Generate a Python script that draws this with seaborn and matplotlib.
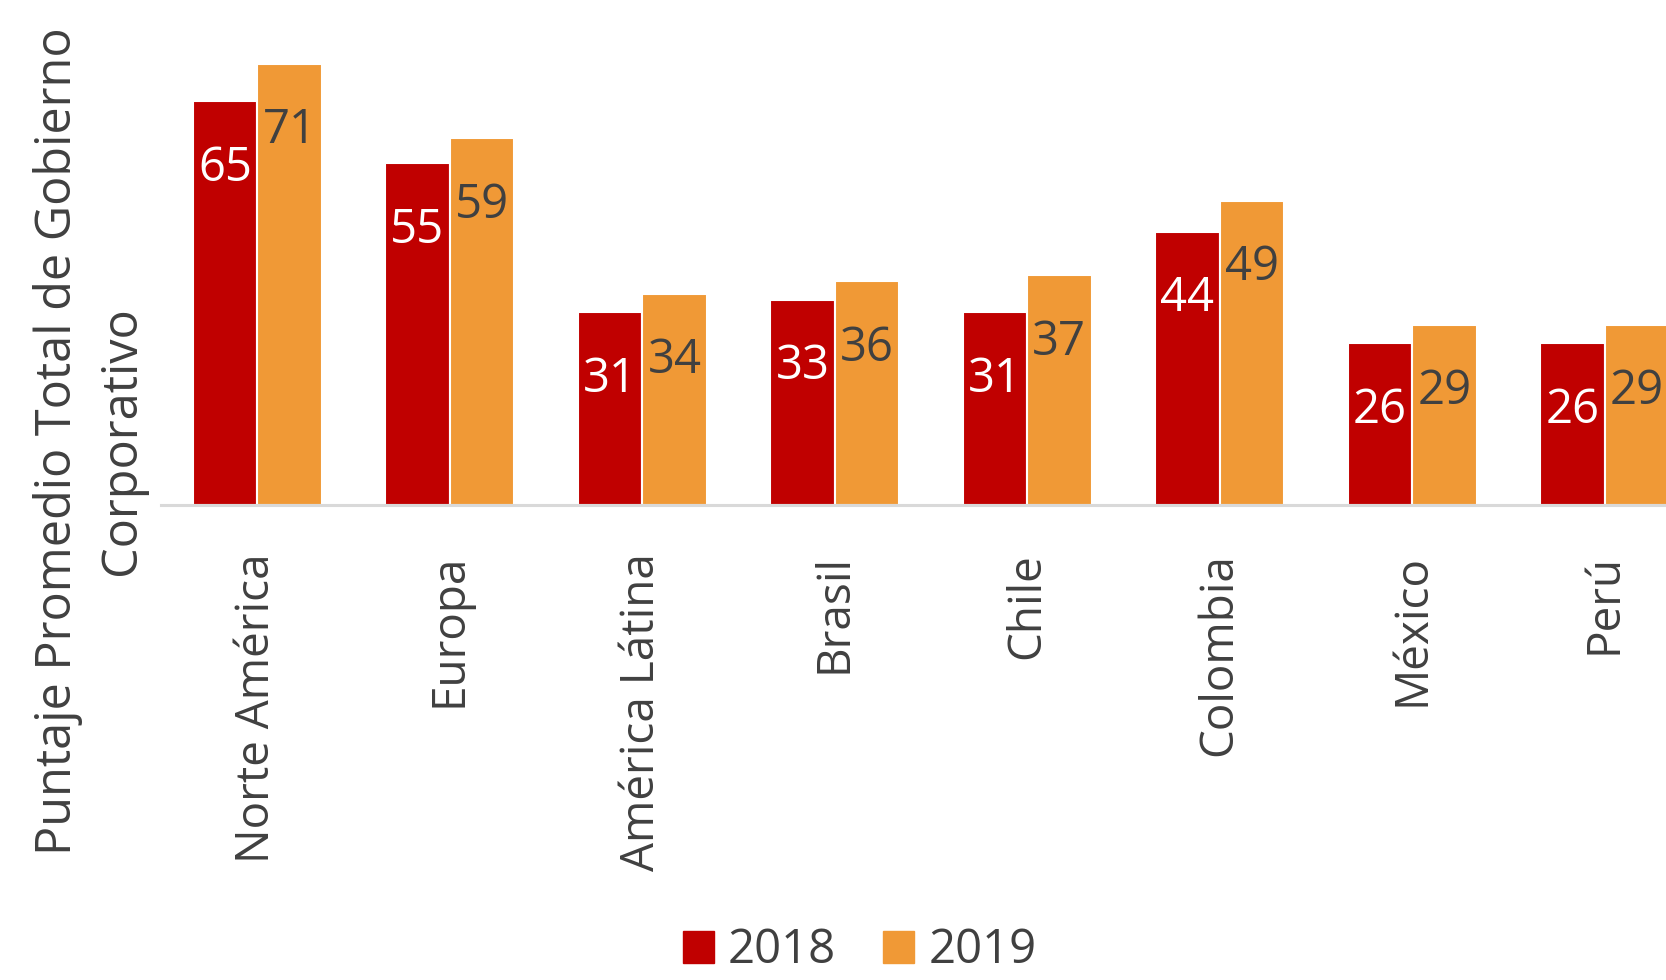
import matplotlib
matplotlib.use("Agg")
import matplotlib.pyplot as plt
import seaborn as sns
import pandas as pd

categories = ["Norte América", "Europa", "América Látina", "Brasil", "Chile",
              "Colombia", "México", "Perú"]
years = ["2018", "2019"]
values_2018 = [65, 55, 31, 33, 31, 44, 26, 26]
values_2019 = [71, 59, 34, 36, 37, 49, 29, 29]
ylabel = "Puntaje Promedio Total de Gobierno\nCorporativo"

colors = {"2018": "#C00000", "2019": "#F09936"}
text_gray = "#404040"

df = pd.DataFrame({
    "cat": categories * 2,
    "year": ["2018"] * len(categories) + ["2019"] * len(categories),
    "val": values_2018 + values_2019,
})

sns.set_theme(style="white")
plt.rcParams["font.family"] = ["Open Sans", "DejaVu Sans"]

fig = plt.figure(figsize=(16.66, 9.8), dpi=100)
W, H = 1666, 980
left_px, right_px, top_px, base_px = 161, 1666, 39, 505
ax = fig.add_axes([left_px / W, 1 - base_px / H, (right_px - left_px) / W, (base_px - top_px) / H])

sns.barplot(data=df, x="cat", y="val", hue="year", order=categories, hue_order=years,
            palette=colors, width=0.67, edgecolor="white", linewidth=1.5,
            saturation=1, ax=ax, legend=True)

ax.set_xlim(-0.5, (right_px - 257) / 192.5)
ax.set_ylim(0, 75)
ax.set_yticks([])
ax.set_xlabel("")
ax.set_ylabel("")
for s in ["left", "right", "top"]:
    ax.spines[s].set_visible(False)
ax.spines["bottom"].set_color("#D9D9D9")
ax.spines["bottom"].set_linewidth(2.2)
ax.tick_params(axis="x", length=0, pad=35, labelsize=33, labelcolor=text_gray)
for lbl in ax.get_xticklabels():
    lbl.set_rotation(90)
    lbl.set_va("top")
    lbl.set_ha("center")

for i, cont in enumerate(ax.containers):
    col = "white" if i == 0 else text_gray
    for bar, v in zip(cont, [values_2018, values_2019][i]):
        ax.annotate(f"{v}", (bar.get_x() + bar.get_width() / 2, bar.get_height()),
                    xytext=(0, -48), textcoords="offset points",
                    ha="center", va="center", fontsize=34, color=col,
                    annotation_clip=False)

ax.get_legend().remove()
handles = [plt.Rectangle((0, 0), 1, 1, color=colors[y]) for y in years]
fig.legend(handles, years, loc="center", bbox_to_anchor=(0.516, 0.03), ncol=2,
           frameon=False, fontsize=34, handlelength=0.65, handleheight=0.65,
           handletextpad=0.3, columnspacing=1.0, labelcolor=text_gray,
           borderpad=0.1)

fig.text(90 / W, 1 - 441 / H, ylabel, rotation=90, ha="center", va="center",
         multialignment="center", fontsize=35, color=text_gray, linespacing=1.4)

fig.savefig("out.png", dpi=100)
